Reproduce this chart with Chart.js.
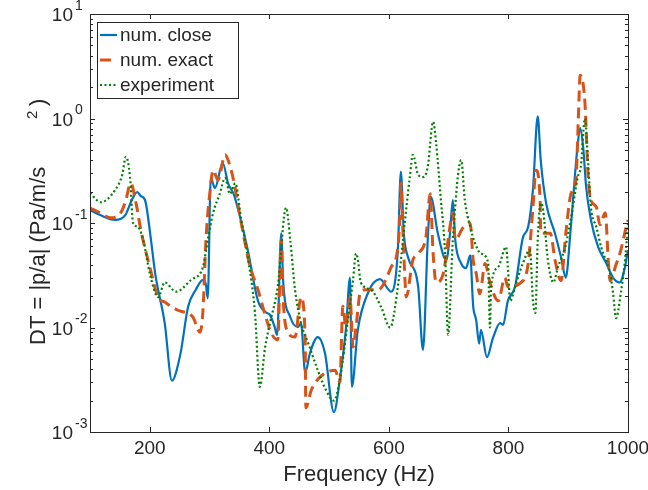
<!DOCTYPE html>
<html>
<head>
<meta charset="utf-8">
<script src="https://cdn.jsdelivr.net/npm/chart.js@4"></script>
<style>
  html, body { margin: 0; padding: 0; background: #fff; }
  #wrap { width: 648px; height: 490px; }
</style>
</head>
<body>
<div id="wrap"><canvas id="dtChart" width="648" height="490"></canvas></div>
<script>
// frequency (Hz) and DT values
var freqClose = [100, 117, 142, 159, 170, 179, 185, 192, 202, 209, 225, 237, 251, 264, 277, 289, 294, 297, 302, 309, 322, 331, 341, 351, 364, 381, 394, 401, 409, 413, 420, 423, 435, 448, 453, 460, 468, 481, 493, 508, 518, 528, 535, 538, 548, 565, 585, 604, 615, 620, 625, 632, 649, 657, 665, 670, 682, 696, 702, 707, 711, 721, 729, 736, 741, 746, 751, 754, 764, 774, 786, 791, 799, 811, 824, 833, 841, 849, 854, 863, 878, 888, 896, 903, 908, 915, 920, 925, 930, 938, 950, 963, 975, 986, 995, 1000];
var dtClose = [0.133, 0.119, 0.107, 0.119, 0.166, 0.198, 0.181, 0.166, 0.069, 0.033, 0.011, 0.0031, 0.0055, 0.0157, 0.023, 0.0285, 0.0255, 0.019, 0.27, 0.216, 0.375, 0.24, 0.185, 0.114, 0.055, 0.018, 0.014, 0.0132, 0.0101, 0.0085, 0.08, 0.0285, 0.0126, 0.0101, 0.011, 0.0037, 0.0057, 0.0081, 0.0057, 0.00155, 0.0032, 0.0095, 0.030, 0.0027, 0.0095, 0.0214, 0.029, 0.022, 0.055, 0.31, 0.079, 0.047, 0.0245, 0.0061, 0.069, 0.178, 0.079, 0.044, 0.077, 0.166, 0.069, 0.041, 0.037, 0.049, 0.016, 0.0118, 0.007, 0.0095, 0.0052, 0.0079, 0.011, 0.0106, 0.018, 0.0245, 0.072, 0.092, 0.21, 1.05, 0.40, 0.155, 0.079, 0.047, 0.030, 0.073, 0.166, 0.5, 0.81, 0.53, 0.22, 0.107, 0.059, 0.042, 0.030, 0.027, 0.038, 0.055];

var freqExact = [100, 117, 135, 152, 160, 168, 177, 185, 200, 214, 225, 246, 272, 284, 289, 294, 301, 306, 314, 326, 331, 339, 353, 368, 381, 394, 403, 414, 420, 423, 431, 443, 453, 460, 461, 470, 486, 510, 518, 523, 528, 535, 540, 545, 552, 560, 582, 604, 615, 619, 620, 624, 627, 629, 640, 649, 662, 669, 674, 679, 691, 702, 707, 711, 724, 736, 741, 746, 752, 761, 769, 783, 794, 799, 821, 833, 841, 846, 853, 854, 870, 878, 888, 896, 905, 913, 917, 920, 928, 933, 938, 947, 953, 962, 967, 970, 980, 988, 997, 1000];
var dtExact = [0.139, 0.125, 0.112, 0.127, 0.166, 0.24, 0.155, 0.086, 0.038, 0.0195, 0.0175, 0.0147, 0.0126, 0.009, 0.0147, 0.069, 0.207, 0.32, 0.258, 0.45, 0.40, 0.275, 0.1, 0.038, 0.023, 0.0126, 0.0089, 0.0076, 0.069, 0.0196, 0.009, 0.0081, 0.0195, 0.0076, 0.0017, 0.0025, 0.0034, 0.0039, 0.0030, 0.016, 0.0101, 0.0195, 0.0065, 0.0101, 0.0214, 0.023, 0.023, 0.038, 0.059, 0.14, 0.24, 0.069, 0.028, 0.0196, 0.044, 0.051, 0.074, 0.19, 0.051, 0.027, 0.033, 0.091, 0.125, 0.069, 0.090, 0.1, 0.044, 0.033, 0.021, 0.041, 0.027, 0.018, 0.030, 0.0245, 0.027, 0.041, 0.142, 0.32, 0.166, 0.080, 0.080, 0.044, 0.028, 0.080, 0.194, 0.258, 1.03, 2.6, 1.4, 0.30, 0.166, 0.142, 0.096, 0.125, 0.044, 0.028, 0.040, 0.055, 0.092, 0.107];

var freqExp = [100, 118, 142, 154, 160, 167, 172, 180, 189, 200, 214, 225, 244, 269, 289, 297, 306, 317, 326, 334, 343, 353, 364, 376, 384, 393, 401, 414, 428, 435, 443, 453, 465, 481, 495, 508, 518, 532, 540, 545, 548, 553, 570, 587, 602, 615, 627, 635, 640, 649, 657, 665, 674, 679, 687, 694, 699, 707, 721, 727, 736, 744, 754, 766, 769, 771, 783, 796, 799, 803, 811, 824, 836, 841, 845, 849, 854, 858, 866, 875, 883, 895, 905, 916, 921, 928, 933, 938, 947, 955, 963, 970, 975, 980, 988, 995, 1000];
var dtExp = [0.194, 0.158, 0.207, 0.29, 0.43, 0.275, 0.1, 0.092, 0.069, 0.033, 0.0195, 0.027, 0.022, 0.0285, 0.038, 0.069, 0.125, 0.19, 0.27, 0.19, 0.24, 0.107, 0.047, 0.0138, 0.0027, 0.0065, 0.011, 0.0245, 0.14, 0.069, 0.0229, 0.011, 0.0071, 0.0039, 0.0025, 0.002, 0.0032, 0.0126, 0.0285, 0.051, 0.045, 0.027, 0.023, 0.0157, 0.01, 0.0245, 0.107, 0.275, 0.45, 0.29, 0.275, 0.344, 0.93, 0.58, 0.166, 0.051, 0.0085, 0.069, 0.4, 0.166, 0.092, 0.0645, 0.051, 0.042, 0.01, 0.0245, 0.038, 0.059, 0.038, 0.018, 0.0245, 0.041, 0.055, 0.018, 0.0138, 0.069, 0.155, 0.133, 0.044, 0.027, 0.038, 0.059, 0.114, 0.275, 0.344, 1.0, 0.40, 0.142, 0.092, 0.059, 0.044, 0.033, 0.0214, 0.0123, 0.0214, 0.044, 0.1];

var xTicks = [200, 400, 600, 800, 1000];
var yTicks = [0.001, 0.01, 0.1, 1, 10];
var yExponents = ['-3', '-2', '-1', '0', '1'];
var seriesNames = ['num. close', 'num. exact', 'experiment'];

var axisColor = '#262626';
var fontFamily = '"Liberation Sans", Arial, Helvetica, sans-serif';
var colors = ['#0072BD', '#D95319', '#008000'];
var dashes = [[], [11, 6], [2, 2.5]];
var widths = [2.2, 3, 2.2];

function toPoints(xs, ys) {
    var pts = [];
    for (var i = 0; i < xs.length; i++) {
        pts.push({x: xs[i], y: ys[i]});
    }
    return pts;
}

// frame, inward ticks, log tick labels, y title and legend, MATLAB style
var matlabAxes = {
    id: 'matlabAxes',
    afterDatasetsDraw: function (chart) {
        var ctx = chart.ctx;
        var area = chart.chartArea;
        var xs = chart.scales.x;
        var ys = chart.scales.y;
        ctx.save();
        ctx.strokeStyle = axisColor;
        ctx.lineWidth = 1;
        ctx.setLineDash([]);
        ctx.strokeRect(Math.round(area.left) + 0.5, Math.round(area.top) + 0.5,
            Math.round(area.right - area.left), Math.round(area.bottom - area.top));

        ctx.beginPath();
        xTicks.forEach(function (v) {
            var px = Math.round(xs.getPixelForValue(v)) + 0.5;
            ctx.moveTo(px, area.bottom);
            ctx.lineTo(px, area.bottom - 5);
            ctx.moveTo(px, area.top);
            ctx.lineTo(px, area.top + 5);
        });
        for (var d = -3; d < 1; d++) {
            for (var m = 1; m < 10; m++) {
                var py = Math.round(ys.getPixelForValue(m * Math.pow(10, d))) + 0.5;
                var len = m === 1 ? 5 : 3;
                ctx.moveTo(area.left, py);
                ctx.lineTo(area.left + len, py);
                ctx.moveTo(area.right, py);
                ctx.lineTo(area.right - len, py);
            }
        }
        ctx.stroke();

        // y tick labels 10^n
        ctx.fillStyle = axisColor;
        ctx.textBaseline = 'middle';
        yTicks.forEach(function (v, i) {
            var py = ys.getPixelForValue(v);
            ctx.font = '19px ' + fontFamily;
            ctx.textAlign = 'right';
            ctx.fillText('10', 73, py + 2);
            ctx.font = '14px ' + fontFamily;
            ctx.textAlign = 'left';
            ctx.fillText(yExponents[i], 75, py - 8);
        });

        // y axis title
        ctx.save();
        ctx.translate(45, 345);
        ctx.rotate(-Math.PI / 2);
        ctx.textAlign = 'left';
        ctx.textBaseline = 'alphabetic';
        ctx.font = '22px ' + fontFamily;
        ctx.fillText('DT = |p/a| (Pa/m/s', 0, 0);
        ctx.font = '15px ' + fontFamily;
        ctx.fillText('2', 226, -8);
        ctx.font = '22px ' + fontFamily;
        ctx.fillText(')', 239, 0);
        ctx.restore();

        // legend
        ctx.fillStyle = '#ffffff';
        ctx.fillRect(97, 22, 141, 76);
        ctx.strokeStyle = axisColor;
        ctx.strokeRect(97.5, 22.5, 141, 76);
        var rows = [35, 60, 85];
        seriesNames.forEach(function (name, i) {
            ctx.beginPath();
            ctx.strokeStyle = colors[i];
            ctx.lineWidth = widths[i];
            ctx.setLineDash(dashes[i]);
            ctx.moveTo(100, rows[i]);
            ctx.lineTo(117, rows[i]);
            ctx.stroke();
            ctx.setLineDash([]);
            ctx.fillStyle = axisColor;
            ctx.font = '19px ' + fontFamily;
            ctx.textAlign = 'left';
            ctx.textBaseline = 'middle';
            ctx.fillText(name, 120, rows[i] + 1);
        });
        ctx.restore();
    }
};

var datasets = [
    {label: seriesNames[0], data: toPoints(freqClose, dtClose), order: 2},
    {label: seriesNames[1], data: toPoints(freqExact, dtExact), order: 1},
    {label: seriesNames[2], data: toPoints(freqExp, dtExp), order: 0}
];
datasets.forEach(function (ds, i) {
    ds.borderColor = colors[i];
    ds.borderWidth = widths[i];
    ds.borderDash = dashes[i];
    ds.pointRadius = 0;
    ds.cubicInterpolationMode = 'monotone';
    ds.fill = false;
});

new Chart(document.getElementById('dtChart').getContext('2d'), {
    type: 'line',
    data: {datasets: datasets},
    options: {
        responsive: false,
        animation: false,
        layout: {padding: {top: 14, right: 20, left: 0, bottom: 0}},
        plugins: {legend: {display: false}, tooltip: {enabled: false}},
        scales: {
            x: {
                type: 'linear',
                min: 100,
                max: 1000,
                afterBuildTicks: function (scale) {
                    scale.ticks = xTicks.map(function (v) { return {value: v}; });
                },
                afterFit: function (scale) {
                    scale.height = 58;
                    scale.paddingLeft = 0;
                    scale.paddingRight = 0;
                },
                grid: {display: false, drawTicks: false},
                border: {display: false},
                ticks: {
                    color: axisColor,
                    font: {family: fontFamily, size: 19},
                    padding: 5,
                    maxRotation: 0,
                    callback: function (v) { return String(v); }
                },
                title: {
                    display: true,
                    text: 'Frequency (Hz)',
                    color: axisColor,
                    font: {family: fontFamily, size: 22},
                    padding: {top: 0, bottom: 2}
                }
            },
            y: {
                type: 'logarithmic',
                min: 0.001,
                max: 10,
                afterBuildTicks: function (scale) {
                    scale.ticks = yTicks.map(function (v) { return {value: v}; });
                },
                afterFit: function (scale) {
                    scale.width = 90;
                    scale.paddingTop = 0;
                    scale.paddingBottom = 0;
                },
                grid: {display: false, drawTicks: false},
                border: {display: false},
                ticks: {display: false}
            }
        }
    },
    plugins: [matlabAxes]
});
</script>
</body>
</html>
